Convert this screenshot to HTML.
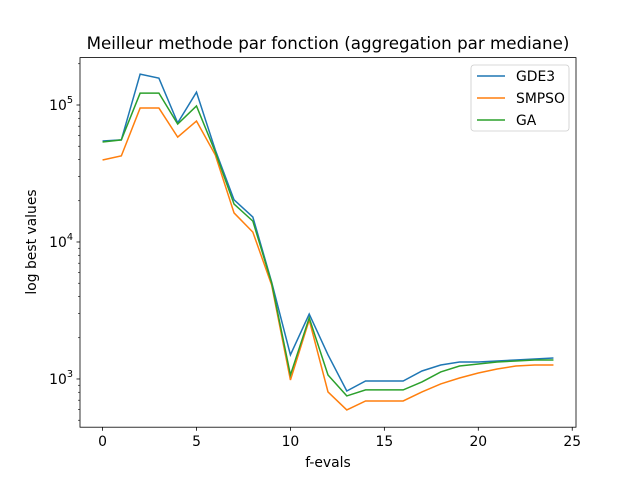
<!DOCTYPE html>
<html><head><meta charset="utf-8"><style>
body{margin:0;background:#fff}
svg{display:block;font-family:"DejaVu Sans","Liberation Sans",sans-serif}
</style></head><body>
<svg id="chart" width="640" height="480"></svg>
<script>
const xs = [0,1,2,3,4,5,6,7,8,9,10,11,12,13,14,15,16,17,18,19,20,21,22,23,24];
const gde3 = [54600,55600,168000,157000,74000,124000,47000,20300,15200,5100,1500,2980,1500,817,967,967,967,1144,1265,1331,1331,1353,1376,1399,1423];
const smpso = [39700,42500,95000,95000,58300,76400,43200,16300,11800,4850,983,2700,804,594,691,691,691,804,920,1017,1106,1183,1244,1265,1265];
const ga = [53700,55600,122000,122000,72600,98400,45400,18900,14200,5020,1070,2790,1070,752,832,832,832,951,1125,1244,1286,1331,1353,1376,1376];
const xTicks = [0,5,10,15,20,25];
const yTicks = [3,4,5];
const seriesNames = ["GDE3","SMPSO","GA"];
const colors = ["#1f77b4","#ff7f0e","#2ca02c"];

const L=80,R=576,T=57.6,B=427.2;
const xmin=-1.2,xmax=25.2, ymin=2.648, ymax=5.346;
const X=v=>L+(v-xmin)/(xmax-xmin)*(R-L);
const Y=v=>B-(Math.log10(v)-ymin)/(ymax-ymin)*(B-T);
const svg=document.getElementById('chart');
const NS="http://www.w3.org/2000/svg";
function mk(tag,attrs,parent){const e=document.createElementNS(NS,tag);for(const k in attrs)e.setAttribute(k,attrs[k]);(parent||svg).appendChild(e);return e;}

[gde3,smpso,ga].forEach((s,i)=>{
  const p=mk('polyline',{points:s.map((v,j)=>X(xs[j])+','+Y(v)).join(' '),fill:'none',stroke:colors[i],'stroke-width':1.5});
  
  
});
const fr=mk('rect',{x:L,y:T,width:R-L,height:B-T,fill:'none',stroke:'#000','stroke-width':0.8});


xTicks.forEach(t=>{
  mk('line',{x1:X(t),x2:X(t),y1:B,y2:B+3.5,stroke:'#000','stroke-width':0.8});
  const tx=mk('text',{x:X(t),y:B+19,'font-size':13.9,'text-anchor':'middle'});
  tx.textContent=t;
  
  
});
for(let d=2;d<=5;d++){for(let m=1;m<10;m++){
  const v=m*Math.pow(10,d);const lv=Math.log10(v);
  if(lv<ymin||lv>ymax)continue;
  if(m===1){mk('line',{x1:L-3.5,x2:L,y1:Y(v),y2:Y(v),stroke:'#000','stroke-width':0.8});}
  else mk('line',{x1:L-2,x2:L,y1:Y(v),y2:Y(v),stroke:'#000','stroke-width':0.6});
}}
yTicks.forEach(e=>{
  const tx=mk('text',{x:L-7,y:Y(Math.pow(10,e))+5,'font-size':13.9,'text-anchor':'end'});
  tx.innerHTML='10<tspan dy="-7" font-size="9.7">'+e+'</tspan>';
  
  
});
let t=mk('text',{x:(L+R)/2,y:49,'font-size':16.7,'text-anchor':'middle'});
t.textContent='Meilleur methode par fonction (aggregation par mediane)';


t=mk('text',{x:(L+R)/2,y:467,'font-size':13.9,'text-anchor':'middle'});
t.textContent='f-evals';


t=mk('text',{x:0,y:0,'font-size':13.9,'text-anchor':'middle',transform:'translate(36,242) rotate(-90)'});
t.textContent='log best values';


const lg=mk('rect',{x:471,y:65,width:98,height:66,rx:3,fill:'#fff','fill-opacity':0.8,stroke:'#ccc','stroke-width':0.8});


seriesNames.forEach((n,i)=>{
  const y=76+i*22;
  const ln=mk('line',{x1:477,x2:505,y1:y,y2:y,stroke:colors[i],'stroke-width':1.5});
  
  
  const tx=mk('text',{x:516,y:y+5,'font-size':13.9});
  tx.textContent=n;
  
  
});
</script>
</body></html>
